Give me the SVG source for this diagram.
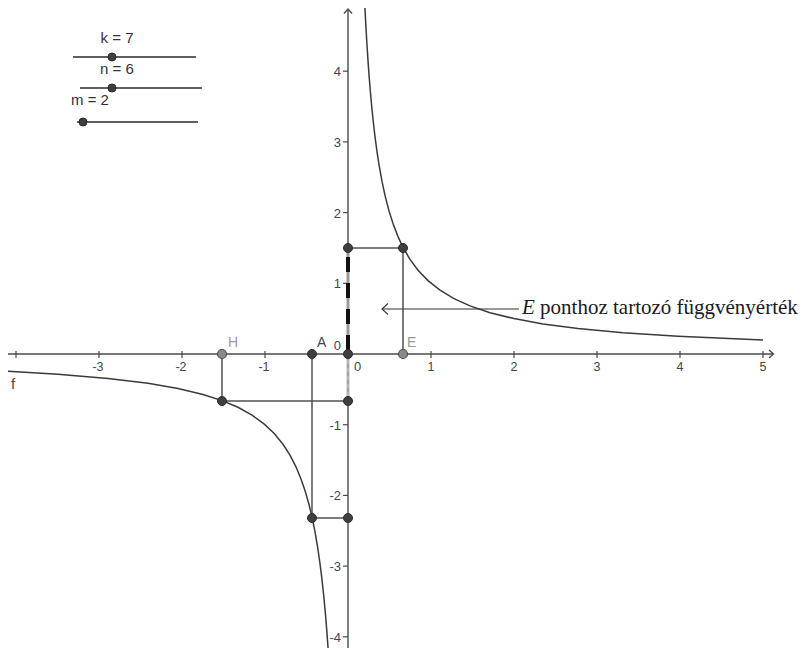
<svg xmlns="http://www.w3.org/2000/svg" width="805" height="648" viewBox="0 0 805 648">
<style>
  .ax{stroke:#4a4a4a;stroke-width:1.4;fill:none}
  .tk{stroke:#4a4a4a;stroke-width:1.2}
  .lbl{font-family:"Liberation Sans",Arial,sans-serif;font-size:12.5px;fill:#444}
  .seg{stroke:#505050;stroke-width:1.5;fill:none}
  .crv{stroke:#3a3a3a;stroke-width:1.5;fill:none}
  .pt{fill:#3f3f3f;stroke:#2a2a2a;stroke-width:1}
  .gpt{fill:#8a8a8a;stroke:#505050;stroke-width:1.2}
  .sl{stroke:#2a2a2a;stroke-width:1.3}
  .st{font-family:"Liberation Sans",Arial,sans-serif;font-size:15px;fill:#333}
  .ann{font-family:"Liberation Serif","Times New Roman",serif;font-size:21px;fill:#1a1a1a}
</style>
<rect width="805" height="648" fill="#fff"/>

<g id="axes">
  <line class="ax" x1="8" y1="354" x2="773" y2="354"/>
  <path class="ax" d="M769 350 L773.5 354 L769 358"/>
  <line class="ax" x1="348" y1="648" x2="348" y2="9"/>
  <path class="ax" d="M344 13.5 L348 9 L352 13.5"/>
  <g class="tk">
    <line x1="16" y1="351" x2="16" y2="358"/>
    <line x1="99" y1="351" x2="99" y2="358"/>
    <line x1="182" y1="351" x2="182" y2="358"/>
    <line x1="265" y1="351" x2="265" y2="358"/>
    <line x1="431" y1="351" x2="431" y2="358"/>
    <line x1="514" y1="351" x2="514" y2="358"/>
    <line x1="597" y1="351" x2="597" y2="358"/>
    <line x1="680" y1="351" x2="680" y2="358"/>
    <line x1="763" y1="351" x2="763" y2="358"/>
    <line x1="343" y1="71.2" x2="348" y2="71.2"/>
    <line x1="343" y1="141.9" x2="348" y2="141.9"/>
    <line x1="343" y1="212.6" x2="348" y2="212.6"/>
    <line x1="343" y1="283.3" x2="348" y2="283.3"/>
    <line x1="343" y1="424.7" x2="348" y2="424.7"/>
    <line x1="343" y1="495.4" x2="348" y2="495.4"/>
    <line x1="343" y1="566.1" x2="348" y2="566.1"/>
    <line x1="343" y1="636.8" x2="348" y2="636.8"/>
  </g>
  <g class="lbl" text-anchor="middle">
    <text x="98" y="371">-3</text>
    <text x="181" y="371">-2</text>
    <text x="264" y="371">-1</text>
    <text x="431" y="371">1</text>
    <text x="514" y="371">2</text>
    <text x="597" y="371">3</text>
    <text x="680" y="371">4</text>
    <text x="763" y="371">5</text>
  </g>
  <g class="lbl" text-anchor="end" style="font-size:13px">
    <text x="341" y="76">4</text>
    <text x="341" y="146.5">3</text>
    <text x="341" y="217.5">2</text>
    <text x="341" y="288">1</text>
    <text x="341" y="429.5">-1</text>
    <text x="341" y="500">-2</text>
    <text x="341" y="570.5">-3</text>
    <text x="341" y="641.5">-4</text>
    <text x="341" y="350">0</text>
  </g>
  <text class="lbl" x="354" y="371" style="font-size:13px">0</text>
</g>

<g id="curve-f">
  <polyline class="crv" points="364.96,8 365.5,18.7 366,28 367,45.2 368,60.6 369,74.6 370,87.3 371.5,104.3 373,119.3 375,136.7 377,151.7 379,164.7 382,181.4 385,195.4 389,210.9 393,223.6 398,236.6 403,247.3 410,259.4 418,270.2 428,280.6 440,290.2 454,298.6 470,305.9 490,312.7 514,318.6 543,323.9 578,328.5 623,332.7 678,336.2 763,339.9"/>
  <polyline class="crv" points="8,371.3 58,374.2 108,378.5 148,383.3 178,388.5 203,394.5 222,400.6 238,407.3 252,415.1 264,423.9 274,433.3 283,444.3 290,455.2 296,466.8 301,478.9 305,490.5 309,504.5 312,517 315,531.8 317.5,546.4 320,563.6 322,579.7 324,598.5 325.5,614.8 327,633.4 328,647.4 328.5,654.9"/>
  <text class="lbl" x="11" y="389" style="font-size:15px">f</text>
</g>

<g id="connectors">
  <line x1="348" y1="354" x2="348" y2="401" stroke="#b8b8b8" stroke-width="3"/>
  <line x1="348" y1="356" x2="348" y2="400" stroke="#8a8a8a" stroke-width="1" stroke-dasharray="4 4"/>
  <line x1="348" y1="354" x2="348" y2="248" stroke="#9a9a9a" stroke-width="3"/>
  <line x1="348" y1="350" x2="348" y2="252" stroke="#111" stroke-width="4" stroke-dasharray="15 11"/>
  <line class="seg" x1="348" y1="248" x2="403" y2="248"/>
  <line class="seg" x1="403" y1="248" x2="403" y2="354"/>
  <line class="seg" x1="222" y1="354" x2="222" y2="401"/>
  <line class="seg" x1="222" y1="401" x2="348" y2="401"/>
  <line class="seg" x1="312" y1="354" x2="312" y2="518"/>
  <line class="seg" x1="312" y1="518" x2="348" y2="518"/>
  <line x1="382" y1="309" x2="519" y2="309" stroke="#333" stroke-width="1.1"/>
  <path d="M388 303.5 L382 309 L388 314.5" fill="none" stroke="#333" stroke-width="1.1"/>
</g>

<g id="node-fE-axis"><circle class="pt" cx="348" cy="248" r="4.5"/></g>
<g id="node-fE"><circle class="pt" cx="403" cy="248" r="4.5"/></g>
<g id="node-O"><circle class="pt" cx="348" cy="354" r="4.5"/></g>
<g id="node-A"><circle class="pt" cx="312" cy="354" r="4.5"/><text class="lbl" x="317" y="347" style="font-size:14px">A</text></g>
<g id="node-H"><circle class="gpt" cx="222" cy="354" r="4.5"/><text class="lbl" x="228" y="347" style="font-size:14px;fill:#999">H</text></g>
<g id="node-E"><circle class="gpt" cx="403" cy="354" r="4.5"/><text class="lbl" x="407" y="347" style="font-size:14px;fill:#999">E</text></g>
<g id="node-fH"><circle class="pt" cx="222" cy="401" r="4.5"/></g>
<g id="node-fH-axis"><circle class="pt" cx="348" cy="401" r="4.5"/></g>
<g id="node-fA"><circle class="pt" cx="312" cy="518" r="4.5"/></g>
<g id="node-fA-axis"><circle class="pt" cx="348" cy="518" r="4.5"/></g>

<g id="sliders">
  <text class="st" x="117" y="43" text-anchor="middle">k = 7</text>
  <line class="sl" x1="73" y1="57" x2="196" y2="57"/>
  <circle class="pt" cx="112" cy="57" r="4"/>
  <text class="st" x="117" y="73.5" text-anchor="middle">n = 6</text>
  <line class="sl" x1="80" y1="88" x2="202" y2="88"/>
  <circle class="pt" cx="112" cy="88" r="4"/>
  <text class="st" x="90" y="104.5" text-anchor="middle">m = 2</text>
  <line class="sl" x1="77" y1="122" x2="198" y2="122"/>
  <circle class="pt" cx="83" cy="122" r="4"/>
</g>

<g id="annotation">
  <text class="ann" x="522" y="314"><tspan font-style="italic">E</tspan> ponthoz tartozó függvényérték</text>
</g>
</svg>
